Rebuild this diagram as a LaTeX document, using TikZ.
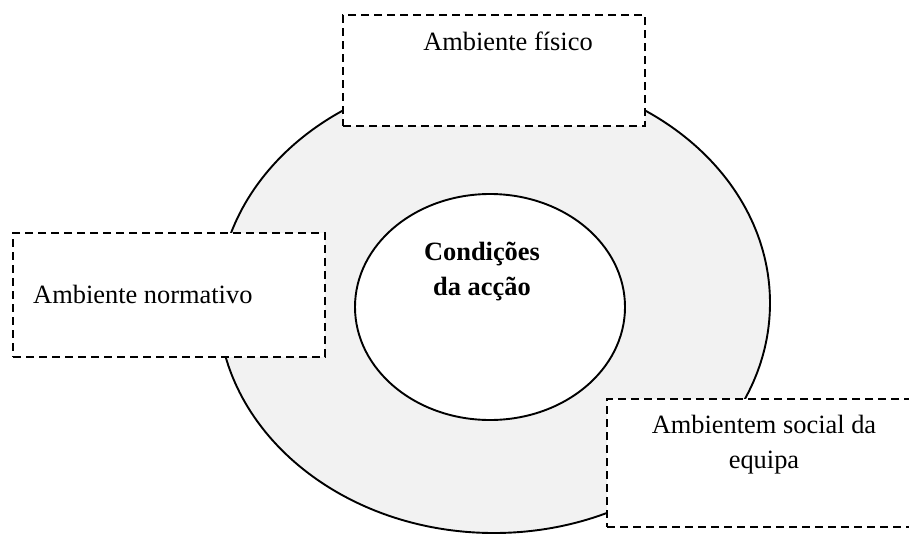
\documentclass[tikz,border=0pt]{standalone}
\usepackage{fontspec}
\setmainfont{Liberation Serif}
\usetikzlibrary{shapes.geometric}
\definecolor{ringgray}{HTML}{F2F2F2}
\begin{document}
\begin{tikzpicture}[x=1pt,y=-1pt,
  ringshape/.style={ellipse, draw=black, line width=1.9pt, inner sep=0pt},
  dbox/.style={draw=black, fill=white, line width=2pt, dash pattern=on 8pt off 5pt, inner sep=0pt},
  lbl/.style={inner sep=0pt, font=\fontsize{26.4}{35}\selectfont}]
\useasboundingbox (0,0) rectangle (909,533);
\clip (0,0) rectangle (909,533);
% outer ring and inner core
\node[ringshape, fill=ringgray, minimum width=552pt, minimum height=460pt] (ring) at (494,303) {};
\node[ringshape, fill=white, minimum width=270pt, minimum height=226pt] (core) at (490,307) {};
\node[lbl, anchor=base, font=\fontsize{26.4}{35}\selectfont\bfseries] (coretxt) at (482,260)
  {\begin{tabular}[t]{@{}c@{}}Condições\\ da acção\end{tabular}};
% dashed boxes around the ring
\node[dbox, minimum width=302pt, minimum height=111pt] (fis) at (494,70.5) {};
\node[lbl, anchor=base] (fistxt) at (508,50) {Ambiente físico};
\node[dbox, minimum width=312pt, minimum height=124pt] (norm) at (169,295) {};
\node[lbl, anchor=base west] (normtxt) at (33,303) {Ambiente normativo};
\node[dbox, minimum width=316pt, minimum height=128pt] (soc) at (765,463) {};
\node[lbl, anchor=base] (soctxt) at (764,433)
  {\begin{tabular}[t]{@{}c@{}}Ambientem social da\\ equipa\end{tabular}};
\end{tikzpicture}
\end{document}
